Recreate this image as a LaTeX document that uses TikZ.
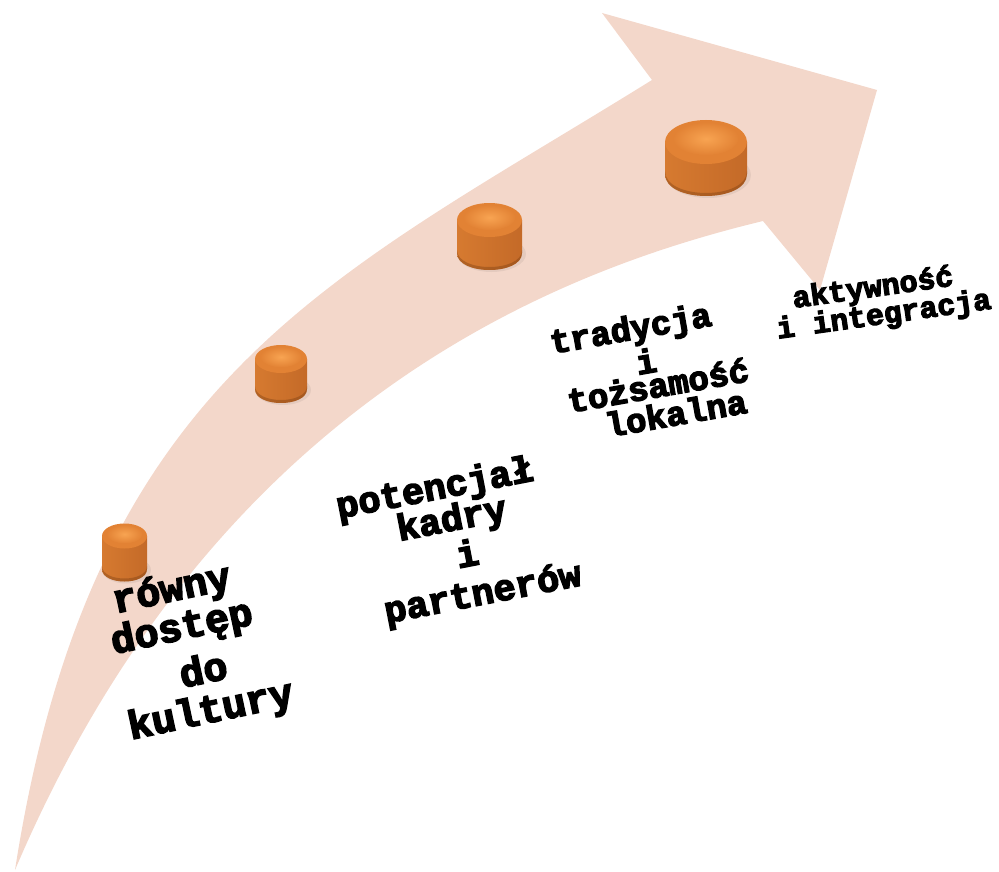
\documentclass[tikz,border=0pt]{standalone}
\usepackage{fontspec}
\newfontfamily\twfont{Liberation Mono}[BoldFeatures={FakeBold=4}]
\definecolor{band}{RGB}{243,215,202}
\definecolor{cylL}{RGB}{214,122,48}
\definecolor{cylM}{RGB}{160,86,32}
\definecolor{cylR}{RGB}{196,106,40}
\definecolor{topIn}{RGB}{248,164,82}
\definecolor{topOut}{RGB}{226,130,52}
\definecolor{rim}{RGB}{110,55,15}
\newcommand\drawcyl[6]{%
  \coordinate (#1) at (#2,#3);
  \fill[black,opacity=0.06] (#2+2,#6+1) ellipse [x radius=#4+2, y radius=#5+1];
  \shade[left color=cylL, middle color=cylM, right color=cylR]
    (#2-#4,#3) -- (#2-#4,#6) .. controls (#2-#4,#6+1.333*#5) and (#2+#4,#6+1.333*#5) .. (#2+#4,#6) -- (#2+#4,#3) -- cycle;
  \fill[rim,opacity=0.35]
    (#2-#4,#6) .. controls (#2-#4,#6+1.333*#5) and (#2+#4,#6+1.333*#5) .. (#2+#4,#6)
    -- (#2+#4,#6-3) .. controls (#2+#4,#6-3+1.333*#5) and (#2-#4,#6-3+1.333*#5) .. (#2-#4,#6-3) -- cycle;
  \fill[topOut] (#2,#3) ellipse [x radius=#4, y radius=#5];
  \shade[inner color=topIn, outer color=topOut] (#2,#3-0.15*#5) ellipse [x radius=0.8*#4, y radius=0.75*#5];
}
\tikzset{
  lbl/.style={text=black, inner sep=0pt},
  g1/.style={lbl, rotate=12, font={\twfont\bfseries\fontsize{40pt}{40pt}\selectfont}},
  g2/.style={lbl, rotate=11, font={\twfont\bfseries\fontsize{37pt}{37pt}\selectfont}},
  g3/.style={lbl, rotate=10, font={\twfont\bfseries\fontsize{34pt}{34pt}\selectfont}},
  g4/.style={lbl, rotate=8, font={\twfont\bfseries\fontsize{30pt}{30pt}\selectfont}},
}
\begin{document}
\begin{tikzpicture}[x=1pt,y=-1pt]
\useasboundingbox (0,0) rectangle (999,872);
% curved arrow band
\fill[band] (15,870) .. controls (92,375) and (330,280) .. (652,80)
  -- (602,13) -- (877,90) -- (820,290) -- (763,221)
  .. controls (560,270) and (215,400) .. (15,870) -- cycle;
% cylinders
\drawcyl{c1}{124.5}{536}{22.5}{12.5}{569}
\drawcyl{c2}{281}{359}{26}{14}{389}
\drawcyl{c3}{489.5}{220}{32.5}{17}{253}
\drawcyl{c4}{706}{142}{41}{22}{174}
% labels
\node[g1] (t1a) at (172,591) {równy};
\node[g1] (t1b) at (182,629) {dostęp};
\node[g1] (t1c) at (203,669) {do};
\node[g1] (t1d) at (211,712) {kultury};
\node[g2] (t2a) at (435,490) {potencjał};
\node[g2] (t2b) at (452,521) {kadry};
\node[g2] (t2c) at (467,553) {i};
\node[g2] (t2d) at (483,595) {partnerów};
\node[g3] (t3a) at (631,331) {tradycja};
\node[g3] (t3b) at (646,361) {i};
\node[g3] (t3c) at (658,385) {tożsamość};
\node[g3] (t3d) at (676,413) {lokalna};
\node[g4] (t4a) at (873,289) {aktywność};
\node[g4] (t4b) at (884,316) {i integracja};
\end{tikzpicture}
\end{document}
